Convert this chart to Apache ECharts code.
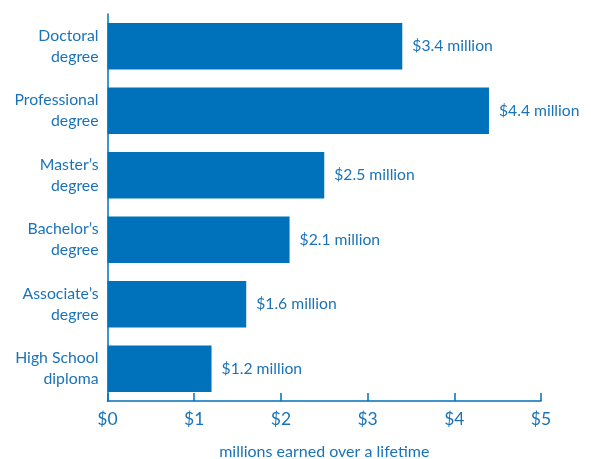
<!DOCTYPE html>
<html><head><meta charset="utf-8">
<script src="https://cdn.jsdelivr.net/npm/echarts@6/dist/echarts.min.js"></script>
<style>html,body{margin:0;padding:0;background:#fff}#c{width:591px;height:459px}</style>
</head><body><div id="c"></div>
<script>
var categories = ["Doctoral\ndegree", "Professional\ndegree", "Master’s\ndegree", "Bachelor’s\ndegree", "Associate’s\ndegree", "High School\ndiploma"];
var values = [3.4, 4.4, 2.5, 2.1, 1.6, 1.2];
var tickLabels = ["$0", "$1", "$2", "$3", "$4", "$5"];
var axisTitle = "millions earned over a lifetime";
var blue = "#0072BC";
var txt = "#1a73b9";
var font = "Lato";
var chart = echarts.init(document.getElementById('c'));
chart.setOption({
  animation: false,
  grid: {left: 107.5, right: 50, top: 14, bottom: 58, containLabel: false, outerBoundsMode: 'none'},
  xAxis: {
    type: 'value', min: 0, max: 5, interval: 1,
    name: axisTitle, nameLocation: 'middle', nameGap: 43,
    nameTextStyle: {color: txt, fontSize: 16, fontFamily: font},
    axisLine: {show: true, lineStyle: {color: blue, width: 1.5}},
    axisTick: {show: true, inside: true, length: 8, lineStyle: {color: blue, width: 1.5}},
    axisLabel: {color: txt, fontSize: 17.5, fontFamily: font, margin: 9,
      formatter: function (v) { return tickLabels[Math.round(v)]; }},
    splitLine: {show: false}
  },
  yAxis: {
    type: 'category', data: categories, inverse: true,
    axisLine: {show: true, lineStyle: {color: blue, width: 1.5}},
    axisTick: {show: false},
    axisLabel: {color: txt, fontSize: 15.8, fontFamily: font, margin: 9, lineHeight: 21, align: 'right'}
  },
  series: [{
    type: 'bar', data: values, barWidth: '72%',
    itemStyle: {color: blue},
    label: {show: true, position: 'right', distance: 10, color: txt, fontSize: 15.7, fontFamily: font,
      formatter: function (p) { return '$' + p.value.toFixed(1) + ' million'; }}
  }]
});
</script></body></html>
